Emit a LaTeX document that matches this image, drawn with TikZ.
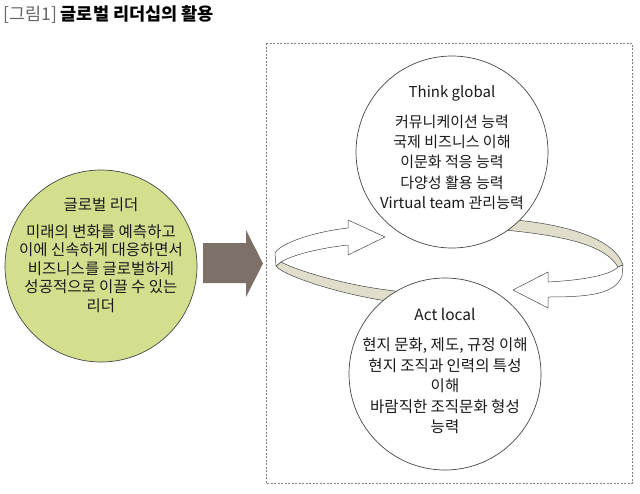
\documentclass[tikz,border=0pt]{standalone}
\usepackage{fontspec}
\usepackage{tikz}
\usetikzlibrary{arrows}
\setmainfont{Noto Sans CJK KR}
\definecolor{leafgreen}{RGB}{212,223,142}
\definecolor{bandgray}{RGB}{224,221,203}
\definecolor{arrowbrown}{RGB}{124,112,104}
\definecolor{inkgray}{RGB}{70,70,70}

\begin{document}
\begin{tikzpicture}[x=1pt,y=-1pt,
  bigcircle/.style={circle,draw=inkgray,line width=0.7pt,minimum size=192pt,inner sep=0pt},
  circtext/.style={align=center,text=black!90},
  ribbon/.style={draw=inkgray,line width=0.5pt,line join=round}]
  \useasboundingbox (0,0) rectangle (640,493);
  \node[anchor=west,inner sep=0pt,font=\fontsize{17.5}{17.5}\selectfont] (title) at (3,15)
    {\textcolor{black!60}{[그림1]} \textbf{글로벌 리더십의 활용}};
  \draw[gray,line width=0.5pt,dash pattern=on 2pt off 1.5pt] (266,43) rectangle (632,483);

  \fill[arrowbrown] (203,243) -- (246,243) -- (246,230) -- (263,263.5) -- (246,297) -- (246,283) -- (203,283) -- cycle;

  \draw[ribbon,fill=bandgray] (281,262) .. controls (300,272) and (350,286) .. (395,291)
    -- (395,302) .. controls (345,296) and (283,276) .. (276,266) -- cycle;
  \draw[ribbon,fill=white] (276,266) -- (275,253) .. controls (278,246) and (305,233) .. (348,228)
    -- (348,220) -- (385,237) -- (348,255) -- (348,245)
    .. controls (320,248) and (292,255) .. (281,262) -- cycle;
  \draw[ribbon,fill=bandgray] (505,219) .. controls (570,224) and (615,240) .. (623,265)
    -- (618,267) .. controls (605,245) and (565,236) .. (505,230) -- cycle;
  \draw[ribbon,fill=white] (623,265) -- (622,276) .. controls (615,294) and (590,297) .. (548,297)
    -- (548,308) -- (513,290) -- (548,272) -- (548,282)
    .. controls (585,280) and (610,275) .. (618,267) -- cycle;

  \node[bigcircle,fill=leafgreen] (lead) at (101,266) {};
  \node[bigcircle,fill=white] (think) at (452,152) {};
  \node[bigcircle,fill=white] (act) at (445,374) {};

  \node[circtext,font=\fontsize{15.5}{18.5}\selectfont] (leadtxt) at (lead.center) [yshift=11pt]
    {글로벌 리더\\[8.5pt] 미래의 변화를 예측하고\\ 이에 신속하게 대응하면서\\ 비즈니스를 글로벌하게\\ 성공적으로 이끌 수 있는\\ 리더};
  \node[circtext,font=\fontsize{15}{20.2}\selectfont] (thinktxt) at (452,147.5)
    {Think global\\[9.8pt] 커뮤니케이션 능력\\ 국제 비즈니스 이해\\ 이문화 적응 능력\\ 다양성 활용 능력\\ Virtual team 관리능력};
  \node[circtext,font=\fontsize{15.5}{20.5}\selectfont] (acttxt) at (445,371)
    {Act local\\[9.5pt] 현지 문화, 제도, 규정 이해\\ 현지 조직과 인력의 특성\\ 이해\\ 바람직한 조직문화 형성\\ 능력};
\end{tikzpicture}
\end{document}
